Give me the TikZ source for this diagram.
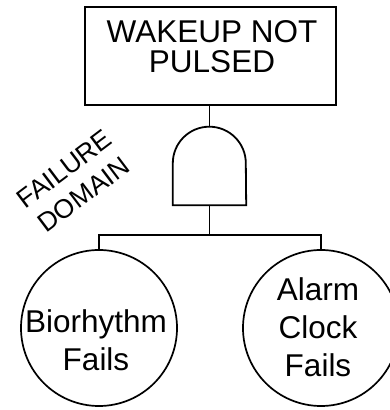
\documentclass[tikz,border=0pt]{standalone}
\usepackage{fontspec}
\setmainfont{Liberation Sans}
\begin{document}
\begin{tikzpicture}[x=1pt,y=1pt,
  boxnode/.style={draw, line width=2pt, minimum width=251pt, minimum height=98pt, inner sep=0pt},
  eventnode/.style={draw, circle, line width=1.7pt, minimum size=156pt, inner sep=0pt},
  bigtext/.style={align=center, inner sep=0pt, font=\fontsize{31.5}{30}\selectfont},
  circtext/.style={align=center, inner sep=0pt, font=\fontsize{31.5}{38}\selectfont},
  wire/.style={line width=1.8pt}
]
\useasboundingbox (0,0) rectangle (389,410);
\fill[white] (0,0) rectangle (389,410);
% top event
\node[boxnode] (top) at (210.5,354) {};
\node[bigtext] (toptxt) at (212,363) {WAKEUP NOT\\PULSED};
% AND gate
\node[minimum width=73pt, minimum height=79pt, inner sep=0pt] (gate) at (209.5,244.5) {};
\draw[wire] (gate.south west) -- ([yshift=42pt]gate.south west)
  arc[start angle=180, end angle=0, radius=36.5pt] -- (gate.south east) -- cycle;
% basic events
\node[eventnode] (bio) at (99,82) {};
\node[eventnode] (alarm) at (321,82) {};
\node[circtext] (biotxt) at (96,70) {Biorhythm\\Fails};
\node[circtext] (alarmtxt) at (318,82.5) {Alarm\\Clock\\Fails};
% connectors
\coordinate (bar) at (210,175);
\draw[wire] (top.south -| gate.north) -- (gate.north);
\draw[wire] (gate.south) -- (gate.south |- bar);
\draw[wire] (bio.north) |- (bar) -| (alarm.north);
% label
\node[align=center, inner sep=0pt, rotate=37, font=\fontsize{26.5}{32}\selectfont] (domain) at (74,228) {FAILURE\\DOMAIN};
\end{tikzpicture}
\end{document}
